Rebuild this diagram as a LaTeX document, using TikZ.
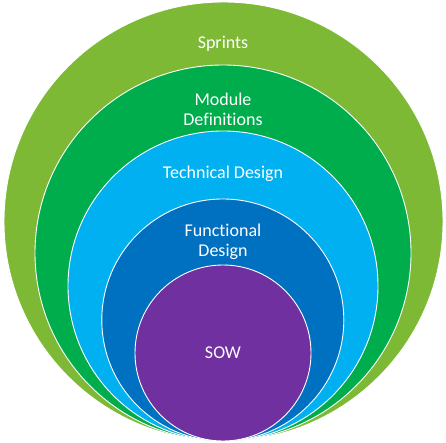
\documentclass[tikz,border=0pt]{standalone}
\usepackage{fontspec}
\setmainfont{Carlito}[Ligatures=NoCommon]

\definecolor{sprintgreen}{HTML}{7DB935}
\definecolor{modgreen}{HTML}{00AD4C}
\definecolor{techblue}{HTML}{00B0F0}
\definecolor{funcblue}{HTML}{0070C0}
\definecolor{sowpurple}{HTML}{7030A0}

\tikzset{
  ring/.style={circle, draw=white, line width=0.9pt, inner sep=0pt},
  lbl/.style={text=white, font=\fontsize{18}{20}\selectfont, align=center}
}

\begin{document}
\begin{tikzpicture}[x=1pt,y=1pt]
\useasboundingbox (0,0) rectangle (446,442);
\node[ring, fill=sprintgreen, minimum size=439pt] (sprints) at (223.5,220.5) {};
\node[ring, fill=modgreen, minimum size=376pt] (module) at (223,189) {};
\node[ring, fill=techblue, minimum size=310pt] (tech) at (223,156) {};
\node[ring, fill=funcblue, minimum size=242pt] (func) at (222.8,122) {};
\node[ring, fill=sowpurple, minimum size=176pt] (sow) at (223,89) {};
\node[lbl] (sprintstxt) at (223,398) {Sprints};
\node[lbl] (moduletxt) at (223,333) {Module\\Definitions};
\node[lbl] (techtxt) at (223,268) {Technical Design};
\node[lbl] (functxt) at (223,200) {Functional\\Design};
\node[lbl] (sowtxt) at (223,89) {SOW};
\end{tikzpicture}
\end{document}
